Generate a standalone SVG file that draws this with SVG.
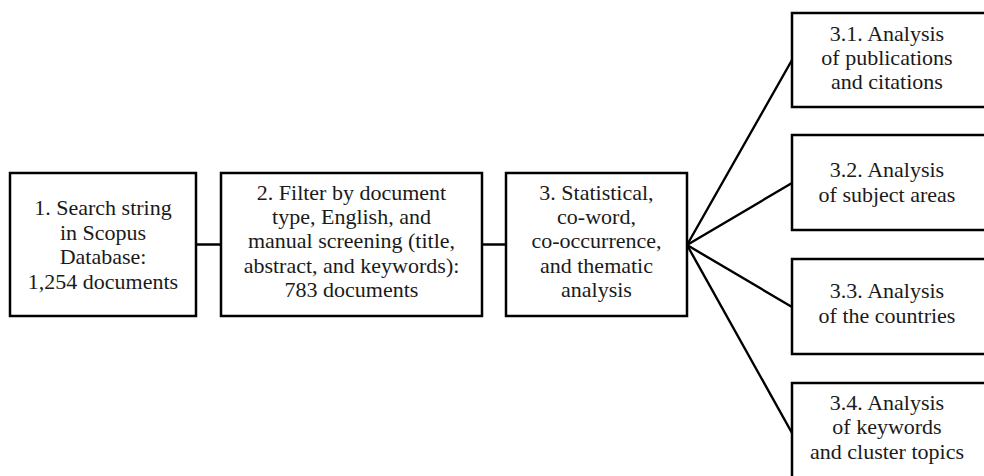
<svg xmlns="http://www.w3.org/2000/svg" width="984" height="476" viewBox="0 0 984 476">
<style>
.box{fill:#fff;stroke:#000;stroke-width:2.5}
.lbl{font-family:"Liberation Serif","Times New Roman",serif;font-size:22px;fill:#1a1a1a;text-anchor:middle}
.conn{stroke:#000;stroke-width:2.4;fill:none;stroke-linecap:round}
</style>
<rect width="984" height="476" fill="#fff"/>
<g id="connectors">
<line class="conn" x1="196" y1="244.5" x2="221" y2="244.5"/>
<line class="conn" x1="482" y1="244.5" x2="506" y2="244.5"/>
<line class="conn" x1="687" y1="245" x2="792" y2="60"/>
<line class="conn" x1="687" y1="245" x2="792" y2="183"/>
<line class="conn" x1="687" y1="245" x2="792" y2="307"/>
<line class="conn" x1="687" y1="245" x2="792" y2="433"/>
</g>
<g id="n1">
<rect class="box" x="10" y="173" width="186" height="143"/>
<text class="lbl" x="103" y="215.4">1. Search string</text>
<text class="lbl" x="103" y="239.8">in Scopus</text>
<text class="lbl" x="103" y="264.2">Database:</text>
<text class="lbl" x="103" y="288.6">1,254 documents</text>
</g>
<g id="n2">
<rect class="box" x="221" y="173" width="261" height="143"/>
<text class="lbl" x="351.5" y="199.5">2. Filter by document</text>
<text class="lbl" x="351.5" y="223.9">type, English, and</text>
<text class="lbl" x="351.5" y="248.3">manual screening (title,</text>
<text class="lbl" x="351.5" y="272.7">abstract, and keywords):</text>
<text class="lbl" x="351.5" y="297.1">783 documents</text>
</g>
<g id="n3">
<rect class="box" x="506" y="173" width="181" height="143"/>
<text class="lbl" x="596.5" y="199.5">3. Statistical,</text>
<text class="lbl" x="596.5" y="223.9">co-word,</text>
<text class="lbl" x="596.5" y="248.3">co-occurrence,</text>
<text class="lbl" x="596.5" y="272.7">and thematic</text>
<text class="lbl" x="596.5" y="297.1">analysis</text>
</g>
<g id="n31">
<rect class="box" x="792" y="13" width="200" height="94"/>
<text class="lbl" x="887" y="40.6">3.1. Analysis</text>
<text class="lbl" x="887" y="65">of publications</text>
<text class="lbl" x="887" y="89.4">and citations</text>
</g>
<g id="n32">
<rect class="box" x="792" y="135" width="200" height="95"/>
<text class="lbl" x="887" y="177.4">3.2. Analysis</text>
<text class="lbl" x="887" y="201.8">of subject areas</text>
</g>
<g id="n33">
<rect class="box" x="792" y="259" width="200" height="95"/>
<text class="lbl" x="887" y="298.4">3.3. Analysis</text>
<text class="lbl" x="887" y="322.8">of the countries</text>
</g>
<g id="n34">
<rect class="box" x="792" y="383" width="200" height="110"/>
<text class="lbl" x="887" y="409.9">3.4. Analysis</text>
<text class="lbl" x="887" y="434.3">of keywords</text>
<text class="lbl" x="887" y="458.7">and cluster topics</text>
</g>
</svg>
